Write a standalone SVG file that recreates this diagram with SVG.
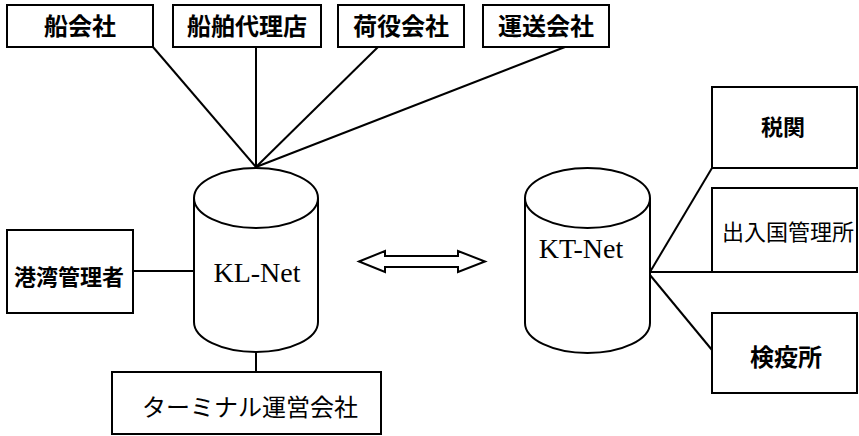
<svg xmlns="http://www.w3.org/2000/svg" width="859" height="436" viewBox="0 0 859 436">
<style>
.box{fill:#fff;stroke:#000;stroke-width:2}
.cyl{fill:#fff;stroke:#000;stroke-width:2}
.con{stroke:#000;stroke-width:2;fill:none}
.jp{font-family:"Noto Sans CJK JP","Noto Sans CJK SC",sans-serif;text-anchor:middle;fill:#000}
.b{font-weight:700}
.en{font-family:"Liberation Serif","Times New Roman",serif;font-size:28px;text-anchor:middle;fill:#000}
</style>
<rect width="859" height="436" fill="#fff"/>
<g id="connectors">
<line class="con" x1="153" y1="47" x2="256" y2="167"/>
<line class="con" x1="256" y1="47" x2="256" y2="167"/>
<line class="con" x1="378" y1="47" x2="256" y2="167"/>
<line class="con" x1="565" y1="47" x2="256" y2="167"/>
<line class="con" x1="133" y1="271" x2="194" y2="271"/>
<line class="con" x1="256" y1="352" x2="256" y2="372"/>
<line class="con" x1="650" y1="272" x2="712" y2="168"/>
<line class="con" x1="650" y1="272" x2="712" y2="272"/>
<line class="con" x1="650" y1="275" x2="712" y2="350"/>
<polygon id="exchange" points="359,261.5 385,251 385,256 458,256 458,251 485,261.5 458,272 458,267 385,267 385,272" fill="#fff" stroke="#000" stroke-width="2" stroke-linejoin="miter"/>
</g>
<g id="n-funagaisha"><rect class="box" x="7" y="5" width="146" height="42"/><text class="jp b" x="80" y="35" font-size="24">船会社</text></g>
<g id="n-dairiten"><rect class="box" x="173" y="5" width="148" height="42"/><text class="jp b" x="247" y="35" font-size="24">船舶代理店</text></g>
<g id="n-niyaku"><rect class="box" x="338" y="5" width="126" height="42"/><text class="jp b" x="401" y="35" font-size="24">荷役会社</text></g>
<g id="n-unso"><rect class="box" x="483" y="5" width="126" height="42"/><text class="jp b" x="546" y="35" font-size="24">運送会社</text></g>
<g id="n-kowan"><rect class="box" x="7" y="230" width="126" height="83"/><text class="jp b" x="69" y="285" font-size="22">港湾管理者</text></g>
<g id="n-klnet">
<path class="cyl" d="M194,198 L194,322 A62,30 0 0 0 318,322 L318,198"/>
<ellipse class="cyl" cx="256" cy="198" rx="62" ry="30"/>
<text class="en" x="257" y="282">KL-Net</text>
</g>
<g id="n-terminal"><rect class="box" x="112" y="372" width="269" height="62"/><text class="jp" x="250" y="416" font-size="24">ターミナル運営会社</text></g>
<g id="n-ktnet">
<path class="cyl" d="M525,198 L525,323 A62.5,30 0 0 0 650,323 L650,198"/>
<ellipse class="cyl" cx="587.5" cy="198" rx="62.5" ry="30"/>
<text class="en" x="581" y="258">KT-Net</text>
</g>
<g id="n-zeikan"><rect class="box" x="712" y="87" width="145" height="81"/><text class="jp b" x="783" y="135" font-size="22">税関</text></g>
<g id="n-nyukan"><rect class="box" x="712" y="188" width="145" height="84"/><text class="jp" x="788" y="240" font-size="22">出入国管理所</text></g>
<g id="n-keneki"><rect class="box" x="712" y="313" width="145" height="80"/><text class="jp b" x="786" y="366" font-size="24">検疫所</text></g>
</svg>
